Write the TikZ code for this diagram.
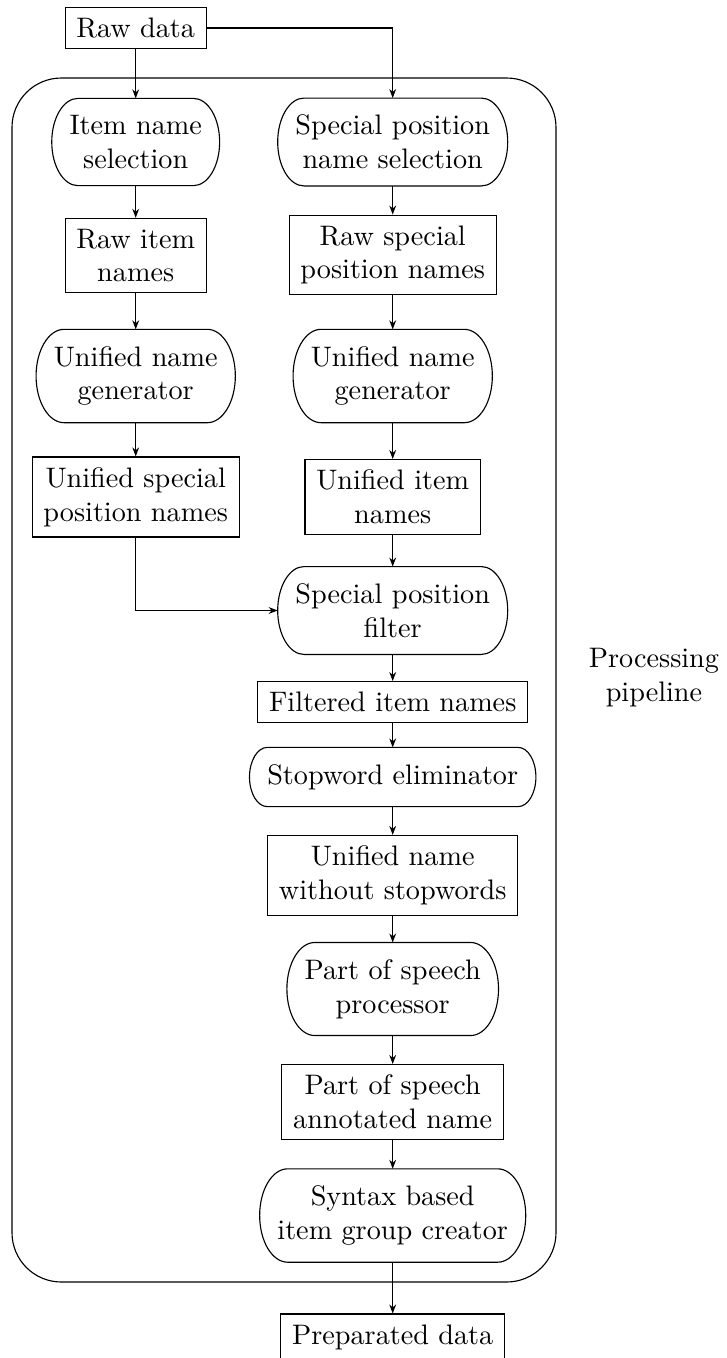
\documentclass[tikz,border=0pt]{standalone}
\usetikzlibrary{arrows.meta,calc,fit}

% Outline of a process step: flat top and bottom, half-elliptic ends
\newcommand\stadiumoutline[1]{%
  \draw let \p1=(#1.north west), \p2=(#1.south east),
            \n1={(\y1-\y2)/2}, \n2={0.6*\n1} in
    (\x1+\n2,\y1) -- (\x2-\n2,\y1)
    arc[start angle=90, end angle=-90, x radius=\n2, y radius=\n1]
    -- (\x1+\n2,\y2)
    arc[start angle=270, end angle=90, x radius=\n2, y radius=\n1] -- cycle;}

\begin{document}
\begin{tikzpicture}[x=0.3546pt, y=-0.3546pt,
  every node/.style={font=\fontsize{10}{12}\selectfont},
  box/.style={draw, align=center, inner xsep=4pt, inner ysep=3.7pt},
  stadium/.style={align=center, inner xsep=6.1pt, inner ysep=5.8pt},
  flow/.style={-{Stealth[length=3.2pt,width=2.4pt]}},
  pipeline/.style={draw, rounded corners=17.5pt, inner sep=0pt},
]
\useasboundingbox (0,0) rectangle (727,1358);

% data and process nodes
\node[box] (raw) at (135.7,28) {Raw data};
\node[stadium] (ins) at (135.7,142) {Item name\\selection};
\node[stadium] (sps) at (392.7,142) {Special position\\name selection};
\node[box] (rin) at (135.7,255.5) {Raw item\\names};
\node[box] (rspn) at (392.7,255) {Raw special\\position names};
\node[stadium] (ung1) at (135.7,376) {Unified name\\generator};
\node[stadium] (ung2) at (392.7,376) {Unified name\\generator};
\node[box] (usp) at (135.7,497) {Unified special\\position names};
\node[box] (uin) at (392.7,497) {Unified item\\names};
\node[stadium] (spf) at (392.7,610.5) {Special position\\filter};
\node[box] (fin) at (392.7,702) {Filtered item names};
\node[stadium] (swe) at (392.7,777) {Stopword eliminator};
\node[box] (unws) at (392.7,875.5) {Unified name\\without stopwords};
\node[stadium] (pos) at (392.7,989) {Part of speech\\processor};
\node[box] (posa) at (392.7,1102) {Part of speech\\annotated name};
\node[stadium] (sbig) at (392.7,1215.5) {Syntax based\\item group creator};
\node[box] (prep) at (392.7,1337) {Preparated data};

\foreach \s in {ins,sps,ung1,ung2,spf,swe,pos,sbig} {\stadiumoutline{\s}}

% enclosing pipeline frame and its label
\coordinate (pnw) at (12,78);
\coordinate (pse) at (556,1282);
\node[pipeline, fit=(pnw)(pse)] (pipe) {};
\node[align=center] (plabel) at (654,678) {Processing\\pipeline};

% connectors
\draw[flow] (raw.south) -- (ins.north);
\draw[flow] (raw.east) -| (sps.north);
\draw[flow] (ins.south) -- (rin.north);
\draw[flow] (rin.south) -- (ung1.north);
\draw[flow] (ung1.south) -- (usp.north);
\draw[flow] (sps.south) -- (rspn.north);
\draw[flow] (rspn.south) -- (ung2.north);
\draw[flow] (ung2.south) -- (uin.north);
\draw[flow] (uin.south) -- (spf.north);
\draw[flow] (usp.south) |- (spf.west);
\draw[flow] (spf.south) -- (fin.north);
\draw[flow] (fin.south) -- (swe.north);
\draw[flow] (swe.south) -- (unws.north);
\draw[flow] (unws.south) -- (pos.north);
\draw[flow] (pos.south) -- (posa.north);
\draw[flow] (posa.south) -- (sbig.north);
\draw[flow] (sbig.south) -- (prep.north);
\end{tikzpicture}
\end{document}
